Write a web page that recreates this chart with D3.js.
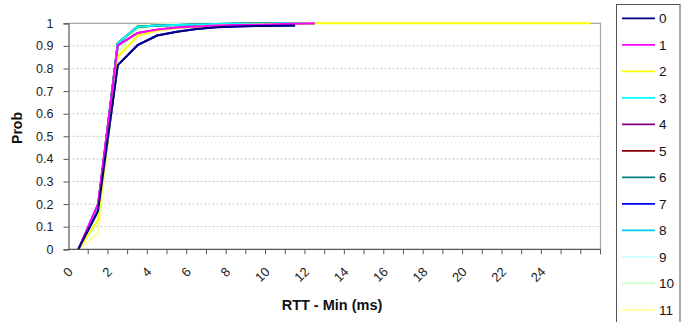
<!DOCTYPE html>
<html>
<head>
<meta charset="utf-8">
<script src="https://cdn.jsdelivr.net/npm/d3@7"></script>
<style>
  html, body { margin: 0; padding: 0; background: #fff; }
  svg { display: block; font-family: "Liberation Sans", Arial, sans-serif; }
</style>
</head>
<body>
<svg id="chart" width="690" height="322"></svg>
<script>
// RTT minus minimum (ms), one category per millisecond
const categories = d3.range(0, 27);
const xTickLabels = ["0", "2", "4", "6", "8", "10", "12", "14", "16", "18", "20", "22", "24"];
const yTicks = [0, 0.1, 0.2, 0.3, 0.4, 0.5, 0.6, 0.7, 0.8, 0.9, 1];
const seriesNames = ["0", "1", "2", "3", "4", "5", "6", "7", "8", "9", "10", "11"];
const seriesColors = ["#000080", "#FF00FF", "#FFFF00", "#00FFFF", "#800080", "#800000",
                      "#008080", "#0000FF", "#00CCFF", "#CCFFFF", "#CCFFCC", "#FFFF99"];

// cumulative probability per series
const s0  = [0, 0.17, 0.815, 0.903, 0.946, 0.963, 0.975, 0.982, 0.986, 0.988, 0.989, 0.99];
const s1  = [0, 0.20, 0.902, 0.957, 0.972, 0.981, 0.986, 0.99, 0.992, 0.994, 0.996, 0.998, 1];
const s2  = [0, 0.13, 0.85, 0.945, 0.968, 0.979, 0.985, 0.99, 0.993, 0.995, 0.997, 0.998, 1,
             1, 1, 1, 1, 1, 1, 1, 1, 1, 1, 1, 1, 1, 1];
const s3  = [0, 0.18, 0.912, 0.985, 0.99, 0.993, 0.995, 0.997, 0.998, 0.999, 1, 1, 1];
const s4  = [0, 0.20, 0.902, 0.957, 0.972, 0.981, 0.986, 0.99, 0.992, 0.994, 0.996, 0.998, 1];
const s5  = [0, 0.18, 0.912, 0.985, 0.99, 0.993, 0.995, 0.997, 0.998, 0.999, 1, 1, 1];
const s6  = [0, 0.18, 0.912, 0.985, 0.99, 0.993, 0.995, 0.997, 0.998, 0.999, 1, 1, 1];
const s7  = [0, 0.17, 0.815, 0.903, 0.946, 0.963, 0.975, 0.982, 0.986, 0.988, 0.989, 0.99];
const s8  = [0, 0.18, 0.912, 0.985, 0.99, 0.993, 0.995, 0.997, 0.998, 0.999, 1, 1, 1];
const s9  = [0, 0.16, 0.905, 0.988, 0.993, 0.996, 0.998, 0.999, 1, 1, 1, 1, 1];
const s10 = [0, 0.12, 0.87, 0.975, 0.99, 0.995, 0.997, 0.999, 1, 1, 1, 1, 1];
const s11 = [0, 0.07, 0.86, 0.99, 0.995, 0.997, 0.998, 0.999, 1, 1, 1, 1, 1];
const seriesValues = [s0, s1, s2, s3, s4, s5, s6, s7, s8, s9, s10, s11];

const svg = d3.select("#chart");
const plot = { left: 68.5, right: 600.5, top: 23.3, bottom: 249.3 };

const x = d3.scaleBand().domain(categories).range([plot.left, plot.right]).padding(0);
const y = d3.scaleLinear().domain([0, 1]).range([plot.bottom, plot.top]);
const cx = c => x(c) + x.bandwidth() / 2;

// dashed horizontal gridlines
svg.append("g").selectAll("line")
  .data(yTicks.filter(v => v > 0 && v < 1))
  .join("line")
  .attr("x1", plot.left).attr("x2", plot.right)
  .attr("y1", d => y(d)).attr("y2", d => y(d))
  .attr("stroke", "#c4c4c4").attr("stroke-width", 1)
  .attr("stroke-dasharray", "2,2");

// plot area frame (top and right)
svg.append("path")
  .attr("d", `M${plot.left},${y(1)}H${plot.right}V${plot.bottom}`)
  .attr("fill", "none").attr("stroke", "#a6a6a6").attr("stroke-width", 1.2);

// series lines, drawn last-to-first so the low indices sit on top
const line = d3.line().x((d, i) => cx(categories[i])).y(d => y(d));
const order = d3.range(seriesValues.length).reverse();
svg.append("g").selectAll("path")
  .data(order)
  .join("path")
  .attr("d", i => line(seriesValues[i]))
  .attr("fill", "none")
  .attr("stroke", i => seriesColors[i])
  .attr("stroke-width", 2)
  .attr("stroke-linejoin", "round");

// y axis
const yAxis = svg.append("g").attr("transform", `translate(${plot.left},0)`)
  .call(d3.axisLeft(y).tickValues(yTicks).tickSize(5).tickPadding(10)
    .tickFormat(d => d === 0 || d === 1 ? String(d) : d3.format(".1f")(d)));
yAxis.select(".domain").attr("stroke", "#555").attr("stroke-width", 1.2);
yAxis.selectAll(".tick line").attr("stroke", "#555");
yAxis.selectAll(".tick text").attr("font-size", 12.5).attr("fill", "#222")
  .attr("font-family", "Liberation Sans, Arial, sans-serif");

// x axis: tick marks at category boundaries, labels at every other category
const xAxisG = svg.append("g");
xAxisG.append("line")
  .attr("x1", plot.left).attr("x2", plot.right)
  .attr("y1", plot.bottom).attr("y2", plot.bottom)
  .attr("stroke", "#555").attr("stroke-width", 1.2);
xAxisG.selectAll("line.tick")
  .data(categories)
  .join("line").attr("class", "tick")
  .attr("x1", d => x(d) + x.bandwidth()).attr("x2", d => x(d) + x.bandwidth())
  .attr("y1", plot.bottom).attr("y2", plot.bottom + 5)
  .attr("stroke", "#555");
xAxisG.selectAll("text")
  .data(xTickLabels)
  .join("text")
  .attr("transform", d => `translate(${cx(+d) - 8},${plot.bottom + 20}) rotate(-45)`)
  .attr("text-anchor", "end")
  .attr("dy", "0.35em")
  .attr("font-size", 13)
  .attr("fill", "#222")
  .text(d => d);

// axis titles
svg.append("text")
  .attr("transform", `translate(22,128) rotate(-90)`)
  .attr("text-anchor", "middle")
  .attr("font-size", 14).attr("font-weight", "bold").attr("fill", "#111")
  .text("Prob");
svg.append("text")
  .attr("x", 332).attr("y", 310)
  .attr("text-anchor", "middle")
  .attr("font-size", 14.5).attr("font-weight", "bold").attr("fill", "#111")
  .text("RTT - Min (ms)");

// legend
const legend = svg.append("g");
legend.append("rect")
  .attr("x", 616.5).attr("y", 4.5).attr("width", 63.5).attr("height", 330)
  .attr("fill", "#fff").attr("stroke", "#555").attr("stroke-width", 1);
const item = legend.selectAll("g.item")
  .data(seriesNames)
  .join("g").attr("class", "item")
  .attr("transform", (d, i) => `translate(0,${18.3 + i * 26.5})`);
item.append("line")
  .attr("x1", 622).attr("x2", 655)
  .attr("stroke", (d, i) => seriesColors[i]).attr("stroke-width", 1.8);
item.append("text")
  .attr("x", 659).attr("dy", "0.35em")
  .attr("font-size", 13.5).attr("fill", "#111")
  .text(d => d);
</script>
</body>
</html>
